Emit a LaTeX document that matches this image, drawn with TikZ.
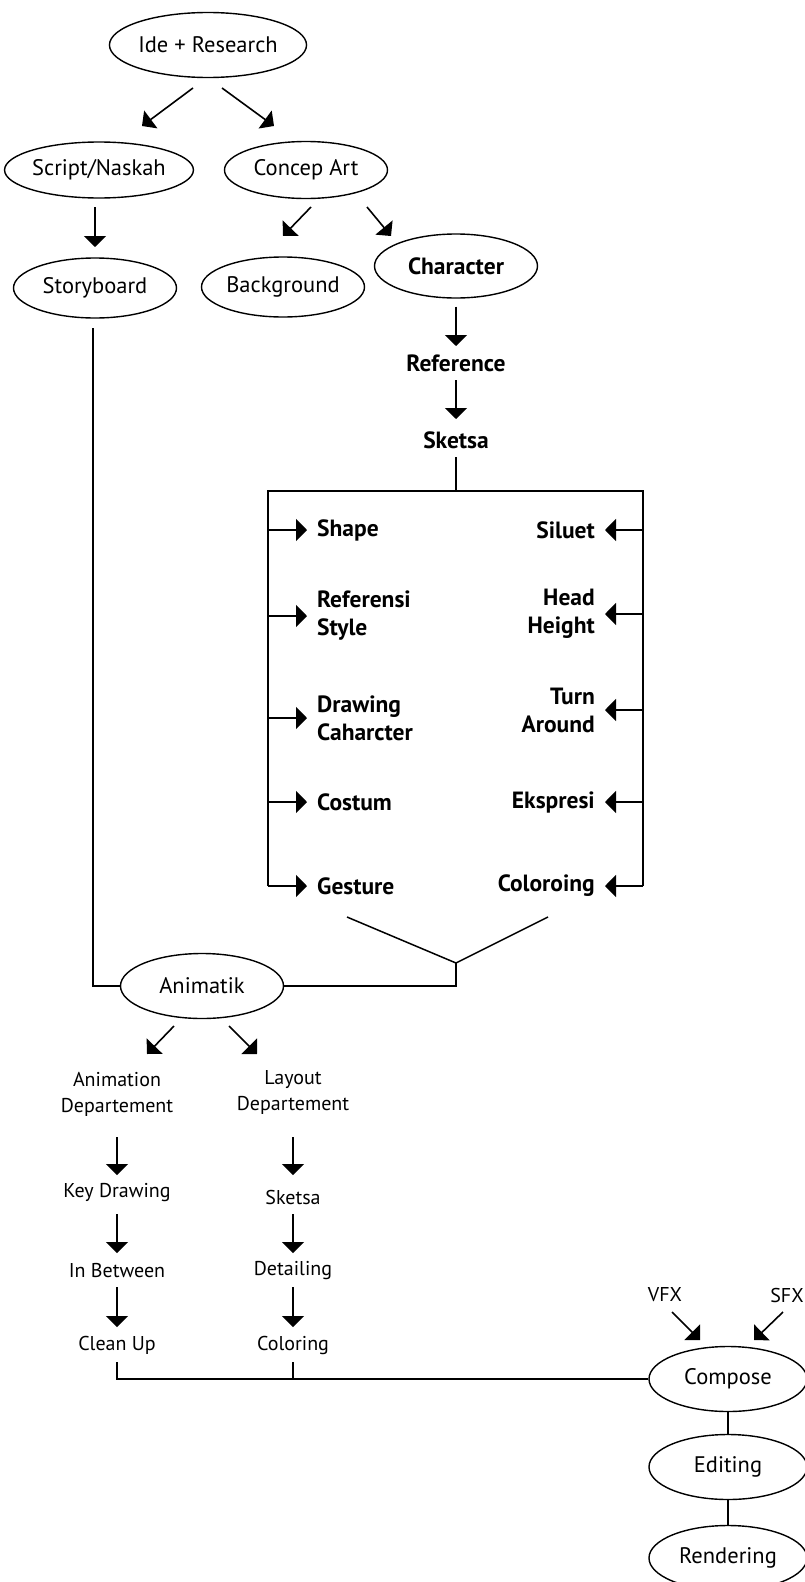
\documentclass[tikz,border=0pt]{standalone}
\usepackage{fontspec}
\setmainfont{PT Sans}
\usetikzlibrary{shapes.geometric,arrows.meta,calc}

\begin{document}
\begin{tikzpicture}[x=1pt,y=-1pt,
    bubble/.style={draw,ellipse,line width=1.4pt,inner sep=0pt,minimum width=163pt,minimum height=60pt,font=\fontsize{22.5}{26}\selectfont},
    txt/.style={inner sep=0pt,align=center,font=\fontsize{20}{26}\selectfont},
    boldtxt/.style={inner sep=0pt,font=\fontsize{23.5}{28}\selectfont\bfseries},
    arr/.style={-{Triangle[width=22pt,length=11pt]},line width=1.6pt},
    conn/.style={line width=1.5pt}]
    \useasboundingbox (0,0) rectangle (804,1582);

    % Top: idea and research
    \node[bubble,minimum width=169pt,minimum height=65pt] (ide) at (208,45) {Ide + Research};
    \node[bubble,minimum height=56pt] (script) at (99,170) {Script/Naskah};
    \node[bubble,minimum height=57pt] (concep) at (306,170) {Concep Art};
    \node[bubble] (story) at (95,288) {Storyboard};
    \node[bubble] (backg) at (283,287) {Background};
    \node[bubble,minimum height=64pt,font=\fontsize{23.5}{26}\selectfont\bfseries] (charac) at (456,266) {Character};

    \draw[arr] ([shift={(-15,43)}]ide.center) -- ([shift={(43,-44)}]script.center);
    \draw[arr] ([shift={(14,43)}]ide.center) -- ([shift={(-32,-44)}]concep.center);
    \draw[arr] ([shift={(-4,37)}]script.center) -- ([shift={(0,-41)}]story.center);
    \draw[arr] ([shift={(5,37)}]concep.center) -- ([shift={(0,-51)}]backg.center);
    \draw[arr] ([shift={(61,37)}]concep.center) -- ([shift={(-65,-30)}]charac.center);

    % Character design
    \node[boldtxt] (ref) at (456,363) {Reference};
    \node[boldtxt] (sketsa) at (456,440) {Sketsa};
    \draw[arr] ([shift={(0,8)}]charac.south) -- ([shift={(0,-17)}]ref.center);
    \draw[arr] ([shift={(0,17)}]ref.center) -- ([shift={(0,-21)}]sketsa.center);

    \coordinate (tl) at (268,491);
    \coordinate (tr) at (643,491);

    % Left column
    \node[boldtxt,anchor=west,align=left] (shape) at (317,530) {Shape};
    \node[boldtxt,anchor=west,align=left] (refstyle) at (317,616) {Referensi\\Style};
    \node[boldtxt,anchor=west,align=left] (drawing) at (317,718) {Drawing\\Caharcter};
    \node[boldtxt,anchor=west,align=left] (costum) at (317,802) {Costum};
    \node[boldtxt,anchor=west,align=left] (gesture) at (317,886) {Gesture};

    % Right column
    \node[boldtxt,anchor=east,align=right] (siluet) at (595,530) {Siluet};
    \node[boldtxt,anchor=east,align=right] (head) at (595,614) {Head\\Height};
    \node[boldtxt,anchor=east,align=right] (turn) at (595,710) {Turn\\Around};
    \node[boldtxt,anchor=east,align=right] (ekspresi) at (595,802) {Ekspresi};
    \node[boldtxt,anchor=east,align=right] (coloroing) at (595,886) {Coloroing};

    \draw[conn] ([shift={(0,17)}]sketsa.center) -- (sketsa |- tl);
    \draw[conn] (gesture.west -| tl) -- (tl) -- (tr) -- (coloroing.east -| tr);
    \foreach \n in {shape,refstyle,drawing,costum,gesture}
        \draw[arr] (\n.west -| tl) -- ([xshift=-10pt]\n.west);
    \foreach \n in {siluet,head,turn,ekspresi,coloroing}
        \draw[arr] (\n.east -| tr) -- ([xshift=10pt]\n.east);

    % Animatik
    \node[bubble,minimum height=65pt] (animatik) at (202,986) {Animatik};
    \coordinate (vl) at (347,917);
    \coordinate (vr) at (548,917);
    \coordinate (vjoin) at (456,963);
    \draw[conn] (vl) -- (vjoin) -- (vr);
    \draw[conn] (vjoin) -- (vjoin |- animatik) -- (animatik.east);
    \draw[conn] ([shift={(-2,40)}]story.center) -- ([xshift=-2pt]story.center |- animatik) -- (animatik.west);

    % Departements
    \node[txt] (animdept) at (117,1094) {Animation\\Departement};
    \node[txt] (layoutdept) at (293,1092) {Layout\\Departement};
    \node[txt] (keyd) at (117,1193) {Key Drawing};
    \node[txt] (sketsab) at (293,1197) {Sketsa};
    \node[txt] (inbet) at (117,1271) {In Between};
    \node[txt] (detail) at (293,1271) {Detailing};
    \node[txt] (clean) at (117,1345) {Clean Up};
    \node[txt] (coloring) at (293,1345) {Coloring};

    \draw[arr] ([shift={(-28,40)}]animatik.center) -- ([shift={(30,-40)}]animdept.center);
    \draw[arr] ([shift={(27,40)}]animatik.center) -- ([shift={(-36,-38)}]layoutdept.center);
    \draw[arr] ([shift={(0,43)}]animdept.center) -- ([shift={(0,-18)}]keyd.center);
    \draw[arr] ([shift={(0,45)}]layoutdept.center) -- ([shift={(0,-22)}]sketsab.center);
    \draw[arr] ([shift={(0,21)}]keyd.center) -- ([shift={(0,-18)}]inbet.center);
    \draw[arr] ([shift={(0,17)}]sketsab.center) -- ([shift={(0,-18)}]detail.center);
    \draw[arr] ([shift={(0,16)}]inbet.center) -- ([shift={(0,-18)}]clean.center);
    \draw[arr] ([shift={(0,16)}]detail.center) -- ([shift={(0,-18)}]coloring.center);

    % Post production
    \node[bubble,minimum width=158pt,minimum height=65pt] (compose) at (728,1379) {Compose};
    \node[bubble,minimum width=158pt,minimum height=65pt] (editing) at (728,1467) {Editing};
    \node[bubble,minimum width=158pt,minimum height=65pt] (render) at (728,1558) {Rendering};
    \node[txt] (vfx) at (665,1295) {VFX};
    \node[txt] (sfx) at (787,1295) {SFX};

    \draw[conn] ([shift={(0,17)}]clean.center) -- (clean |- compose) -- (compose.west);
    \draw[conn] ([shift={(0,17)}]coloring.center) -- (coloring |- compose);
    \draw[conn] (compose.south) -- (editing.north);
    \draw[conn] (editing.south) -- (render.north);
    \draw[arr] ([shift={(7,17)}]vfx.center) -- ([shift={(-28,-39)}]compose.center);
    \draw[arr] ([shift={(-4,17)}]sfx.center) -- ([shift={(26,-39)}]compose.center);
\end{tikzpicture}
\end{document}
